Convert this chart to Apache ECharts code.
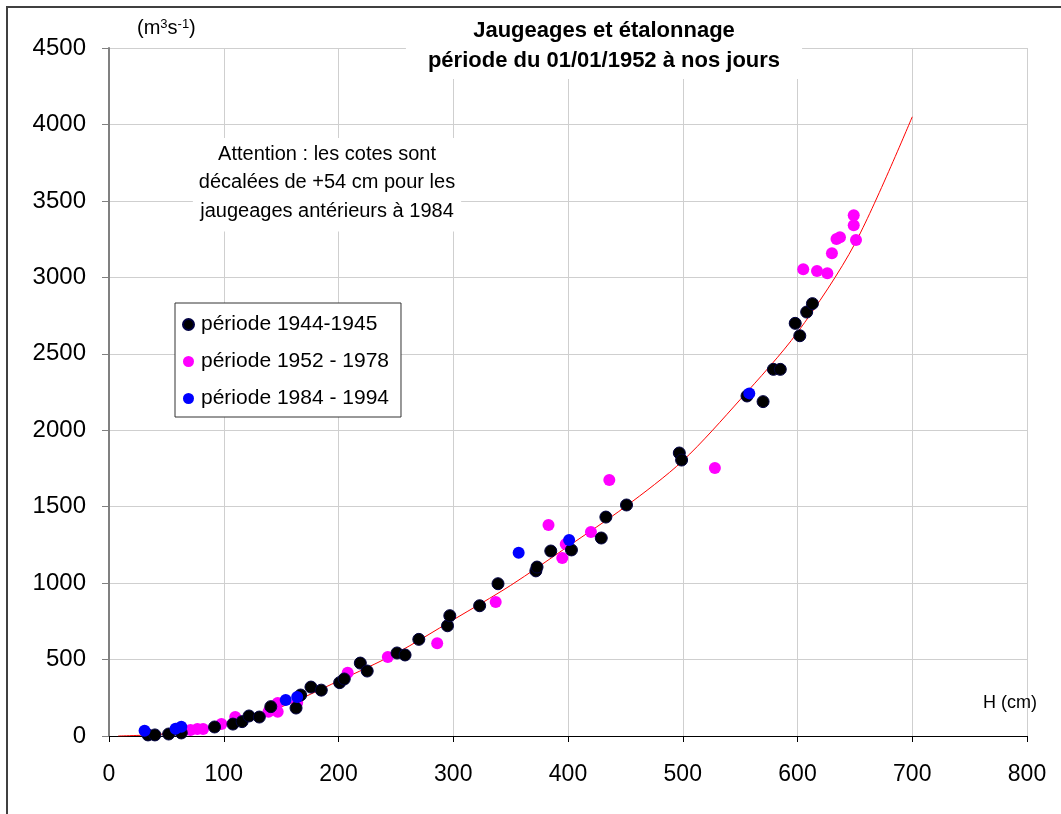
<!DOCTYPE html>
<html>
<head>
<meta charset="utf-8">
<script src="https://cdn.jsdelivr.net/npm/echarts@6/dist/echarts.min.js"></script>
<style>
html,body{margin:0;padding:0;background:#fff;}
#c{width:1061px;height:814px;}
</style>
</head>
<body>
<div id="c"></div>
<script>
// ---- Data ----
var xTicks = [0,100,200,300,400,500,600,700,800];
var yTicks = [0,500,1000,1500,2000,2500,3000,3500,4000,4500];

var seriesNames = ['période 1944-1945', 'période 1952 - 1978', 'période 1984 - 1994'];

var black1944 = [[34,7],[40,7],[52,13],[63,20],[92,59],[108,78],[116,94],[122,131],[131,124],
  [141,192],[163,183],[167,268],[176,320],[185,300],[201,349],[205,373],[219,477],[225,425],
  [251,543],[258,530],[270,632],[295,721],[297,787],[323,852],[339,996],[372,1080],[373,1105],
  [385,1210],[403,1217],[429,1295],[433,1432],[451,1511],[497,1851],[499,1805],[556,2224],
  [570,2187],[579,2398],[585,2398],[598,2699],[602,2618],[608,2773],[613,2828]];

var magenta1952 = [[71,39],[77,46],[82,46],[98,78],[110,124],[139,159],[147,159],[147,216],
  [164,218],[208,414],[243,517],[286,606],[337,876],[383,1380],[395,1164],[398,1255],[420,1334],
  [436,1674],[528,1753],[605,3053],[617,3041],[626,3026],[630,3157],[634,3250],[637,3262],
  [649,3406],[649,3340],[651,3244]];

var blue1984 = [[31,35],[58,48],[63,61],[154,235],[164,255],[357,1199],[401,1282],[558,2241]];

var curveH = [8,50,100,150,200,250,300,350,400,450,500,550,600,650,700];
var curveQ = [0,15,75,190,360,540,760,985,1240,1500,1800,2200,2640,3220,4050];

var titleText = 'Jaugeages et étalonnage\npériode du 01/01/1952 à nos jours';
var noteText = 'Attention : les cotes sont\ndécalées de +54 cm pour les\njaugeages antérieurs à 1984';

// ---- Chart ----
var FONT = '"Liberation Sans", Arial, sans-serif';
var chart = echarts.init(document.getElementById('c'));
var curve = curveH.map(function(h,i){ return [h, curveQ[i]]; });

var option = {
  backgroundColor: '#fff',
  animation: false,
  textStyle: { fontFamily: FONT },
  grid: { left: 109, right: 34, top: 48, bottom: 78, containLabel: false },
  xAxis: {
    type: 'value', min: 0, max: 800, interval: 100,
    axisLine: { lineStyle: { color: '#000', width: 1 } },
    axisTick: { show: true, length: 6, lineStyle: { color: '#000' } },
    axisLabel: { fontSize: 23, color: '#000', margin: 27, fontFamily: FONT,
      formatter: function(v){ return String(v); } },
    splitLine: { show: true, lineStyle: { color: '#cfcfcf', width: 1 } }
  },
  yAxis: {
    type: 'value', min: 0, max: 4500, interval: 500,
    axisLine: { show: true, lineStyle: { color: '#808080', width: 2 } },
    axisTick: { show: true, length: 7, lineStyle: { color: '#808080' } },
    axisLabel: { fontSize: 24, color: '#000', margin: 23, fontFamily: FONT,
      formatter: function(v){ return String(v); } },
    splitLine: { show: true, lineStyle: { color: '#cfcfcf', width: 1 } }
  },
  legend: {
    data: seriesNames,
    orient: 'vertical',
    left: 175, top: 303,
    backgroundColor: '#fff',
    borderColor: '#333', borderWidth: 1,
    padding: [11, 12, 8, 7],
    itemWidth: 11, itemHeight: 11, itemGap: 16,
    icon: 'circle',
    textStyle: { fontSize: 21, color: '#000', fontFamily: FONT, padding: [0,0,0,2] }
  },
  series: [
    {
      name: 'courbe', type: 'line', data: curve, smooth: 0.3,
      symbol: 'none', lineStyle: { color: '#ff0000', width: 1 }, z: 1
    },
    {
      name: seriesNames[0], type: 'scatter', data: black1944, symbolSize: 12,
      itemStyle: { color: '#000000', borderColor: '#000040', borderWidth: 1, opacity: 1 }, z: 3
    },
    {
      name: seriesNames[1], type: 'scatter', data: magenta1952, symbolSize: 12,
      itemStyle: { color: '#ff00ff', opacity: 1 }, z: 2
    },
    {
      name: seriesNames[2], type: 'scatter', data: blue1984, symbolSize: 12,
      itemStyle: { color: '#0000ff', opacity: 1 }, z: 4
    }
  ],
  graphic: [
    { type: 'rect', shape: { x: 7, y: 7, width: 1200, height: 1000 },
      style: { fill: null, stroke: '#404040', lineWidth: 2 }, z: 100, silent: true },
    { type: 'text', x: 604, y: 16, z: 50,
      style: { text: titleText, fill: '#000', font: 'bold 22px ' + FONT,
        align: 'center', verticalAlign: 'top', lineHeight: 30,
        backgroundColor: '#fff', padding: [0, 22, 3, 22] } },
    { type: 'text', x: 327, y: 138, z: 50,
      style: { text: noteText, fill: '#000', font: '20px ' + FONT,
        align: 'center', verticalAlign: 'top', lineHeight: 28.5,
        backgroundColor: '#fff', padding: [2, 6, 6, 6] } },
    { type: 'text', x: 137, y: 18, z: 50,
      style: { text: '(m{sup|3}s{sup|-1})', fill: '#000', font: '20px ' + FONT,
        rich: { sup: { fontSize: 13, verticalAlign: 'top', padding: [0,0,8,0], fontFamily: FONT } } } },
    { type: 'text', x: 983, y: 694, z: 50,
      style: { text: 'H (cm)', fill: '#000', font: '18px ' + FONT } }
  ]
};
chart.setOption(option);
</script>
</body>
</html>
